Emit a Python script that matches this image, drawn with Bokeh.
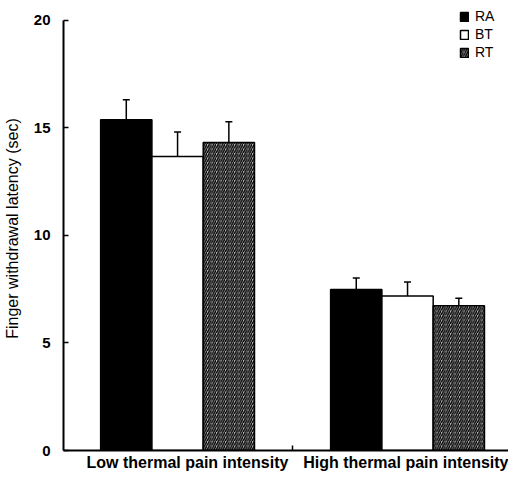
from bokeh.plotting import figure
from bokeh.models import ColumnDataSource, Range1d, FixedTicker, Whisker, TeeHead, Legend, LegendItem
from bokeh.transform import dodge
from bokeh.embed import file_html
from bokeh.resources import INLINE

# ---- data ----
groups = ["Low thermal pain intensity", "High thermal pain intensity"]
group_pos = [0.5, 1.5]
series = ["RA", "BT", "RT"]
ra = [15.38, 7.49]
ra_err = [0.93, 0.53]
bt = [13.67, 7.19]
bt_err = [1.14, 0.65]
rt = [14.32, 6.73]
rt_err = [0.97, 0.35]
y_ticks = [0, 5, 10, 15, 20]

src = ColumnDataSource(dict(
    x=group_pos,
    ra=ra, ra_hi=[v + e for v, e in zip(ra, ra_err)],
    bt=bt, bt_hi=[v + e for v, e in zip(bt, bt_err)],
    rt=rt, rt_hi=[v + e for v, e in zip(rt, rt_err)],
))

FONT = "Liberation Sans"
bw = 0.223

p = figure(width=508, height=473, output_backend="svg", toolbar_location=None,
           x_range=Range1d(0.004, 1.939), y_range=Range1d(0, 20.65),
           min_border_left=62, min_border_right=0, min_border_top=6, min_border_bottom=22)
p.outline_line_color = None
p.xgrid.visible = False
p.ygrid.visible = False
p.background_fill_color = "white"

common = dict(source=src, width=bw, bottom=0, line_color="black", line_width=1.5)
r_ra = p.vbar(x=dodge("x", -bw), top="ra", fill_color="black", **common)
r_bt = p.vbar(x=dodge("x", 0), top="bt", fill_color="white", **common)
r_rt = p.vbar(x=dodge("x", bw), top="rt", fill_color="#bdbdbd",
              hatch_pattern="/", hatch_color="black", hatch_scale=4.5, hatch_weight=1.4, **common)

for off, key in [(-bw, "ra"), (0, "bt"), (bw, "rt")]:
    w = Whisker(source=src, base=dodge("x", off), lower=key, upper=key + "_hi",
                dimension="height", line_width=1.5, line_color="black",
                upper_head=TeeHead(size=7, line_width=1.5, line_color="black"),
                lower_head=None, level="overlay")
    p.add_layout(w)

# x axis: labels sit slightly right of the group centres, as in the original
label_shift = [0.043, 0.006]
label_ticks = [g + s for g, s in zip(group_pos, label_shift)]
xa = p.xaxis[0]
xa.ticker = FixedTicker(ticks=label_ticks, minor_ticks=[1.0])
xa.major_label_overrides = {label_ticks[i]: groups[i] for i in range(2)}
xa.major_tick_in = 0
xa.major_tick_out = 0
xa.major_tick_line_color = None
xa.minor_tick_in = 5
xa.minor_tick_out = 0
xa.minor_tick_line_width = 1.5
xa.axis_line_width = 2
xa.major_label_text_font = FONT
xa.major_label_text_font_size = "16px"
xa.major_label_text_font_style = "bold"
xa.major_label_text_color = "black"
xa.major_label_standoff = 3

# y axis
ya = p.yaxis[0]
ya.bounds = (0, 20)
ya.ticker = FixedTicker(ticks=y_ticks, minor_ticks=[])
ya.major_tick_in = 5
ya.major_tick_out = 0
ya.major_tick_line_width = 1.5
ya.minor_tick_line_color = None
ya.axis_line_width = 2
ya.major_label_text_font = FONT
ya.major_label_text_font_size = "15px"
ya.major_label_text_font_style = "bold"
ya.major_label_text_color = "black"
ya.major_label_standoff = 13
ya.axis_label = "Finger withdrawal latency (sec)"
ya.axis_label_text_font = FONT
ya.axis_label_text_font_size = "16px"
ya.axis_label_text_font_style = "normal"
ya.axis_label_text_color = "black"
ya.axis_label_standoff = 10

legend = Legend(items=[LegendItem(label=series[0], renderers=[r_ra]),
                       LegendItem(label=series[1], renderers=[r_bt]),
                       LegendItem(label=series[2], renderers=[r_rt])],
                location=(396, 390), margin=0, padding=0, spacing=2,
                glyph_width=10, glyph_height=11, label_height=14, label_standoff=6,
                label_text_font=FONT, label_text_font_size="14px", label_text_color="black",
                border_line_color=None, background_fill_alpha=0)
p.add_layout(legend)

open("out.html", "w").write(file_html(p, INLINE))
